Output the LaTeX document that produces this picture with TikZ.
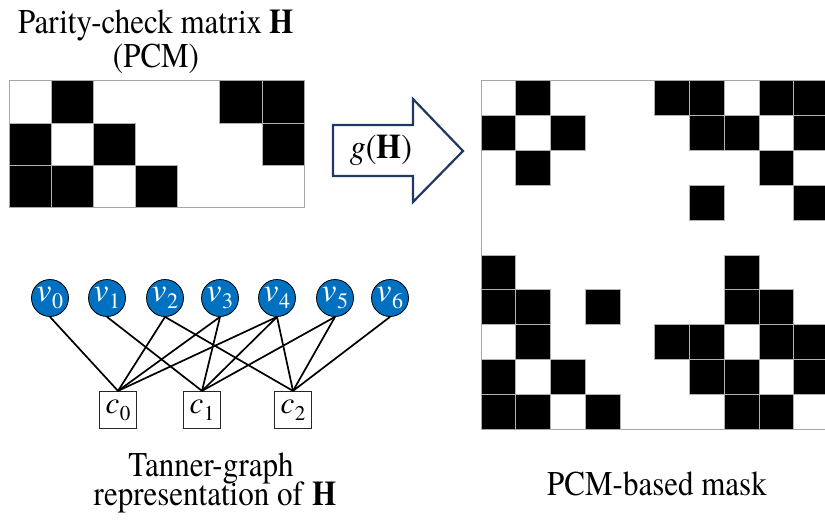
\documentclass[tikz,border=0pt]{standalone}
\usepackage{fontspec}
\setmainfont{TeX Gyre Termes}
\newcommand{\idx}[3]{\textit{#1}\kern0.5pt\raisebox{-0.22em}{\fontsize{#3}{#3}\selectfont #2}}
\begin{document}
\begin{tikzpicture}[x=1pt,y=-1pt,
  lbl/.style={font=\fontsize{31}{34}\selectfont, inner sep=0pt, anchor=base,
    yscale=1.12, transform shape},
  vnode/.style={circle, fill=vblue, draw=black, line width=0.8pt,
    minimum size=37pt, inner sep=0pt, text=white,
    font=\fontsize{33}{33}\selectfont},
  cnode/.style={rectangle, fill=white, draw=black!85, line width=1.2pt,
    minimum size=37pt, inner sep=0pt, font=\fontsize{31}{31}\selectfont},
  tedge/.style={line width=1.7pt, black},
  cell/.style={fill=black, draw=gray!60, line width=0.8pt},
  frame/.style={draw=gray!70, line width=0.9pt}]
\definecolor{vblue}{HTML}{0070C0}
\definecolor{navy}{HTML}{203864}
\useasboundingbox (0,0) rectangle (825,522);

% ---- parity-check matrix H (3 x 7) ----
\node[lbl] (title1) at (156,33) {Parity-check matrix \textbf{H}};
\node[lbl] (title2) at (156,67) {(PCM)};
\foreach \r/\bits in {0/{0,1,0,0,0,1,1},1/{1,0,1,0,0,0,1},2/{1,1,0,1,0,0,0}} {
  \foreach \b [count=\c from 0] in \bits {
    \ifnum\b=1
      \filldraw[cell] ({9.3+\c*42.1},{80.7+\r*42.2}) rectangle ++(42.1,42.2);
    \fi
  }
}
\draw[frame] (9.3,80.7) rectangle (304,207.3);

% ---- transformation arrow ----
\draw[navy, line width=2.2pt, fill=white, line join=miter]
  (333,125) -- (413,125) -- (413,99) -- (463,151) -- (413,202)
  -- (413,176) -- (333,176) -- cycle;
\node[font=\fontsize{32}{32}\selectfont, inner sep=0pt, yscale=1.08, transform shape]
  (gH) at (381,150) {\textit{g}(\textbf{H})};

% ---- PCM-based mask (10 x 10) ----
\foreach \r/\bits in {
  0/{0,1,0,0,0,1,1,0,1,1},
  1/{1,0,1,0,0,0,1,1,0,1},
  2/{0,1,0,0,0,0,0,0,1,0},
  3/{0,0,0,0,0,0,1,0,0,1},
  4/{0,0,0,0,0,0,0,0,0,0},
  5/{1,0,0,0,0,0,0,1,0,0},
  6/{1,1,0,1,0,0,0,1,1,0},
  7/{0,1,0,0,0,1,1,0,1,1},
  8/{1,0,1,0,0,0,1,1,0,1},
  9/{1,1,0,1,0,0,0,1,1,0}} {
  \foreach \b [count=\c from 0] in \bits {
    \ifnum\b=1
      \filldraw[cell] ({481+\c*34.75},{80.7+\r*34.86}) rectangle ++(34.75,34.86);
    \fi
  }
}
\draw[frame] (481,80.7) rectangle (828.5,429.3);
\node[lbl] (masklbl) at (657,495) {PCM-based mask};

% ---- Tanner graph ----
\foreach \i/\x in {0/50,1/107,2/165,3/220,4/277,5/335,6/390}
  \node[vnode] (v\i) at (\x,298) {\idx{v}{\i}{22}};
\foreach \j/\x in {0/118,1/202,2/293}
  \node[cnode] (c\j) at (\x,410) {\idx{c}{\j}{21}};
\foreach \i/\j in {0/0,1/1,2/0,2/2,3/0,3/1,4/0,4/1,4/2,5/1,5/2,6/2}
  \draw[tedge] (v\i.south) -- (c\j.north);
\node[lbl] (tg1) at (211,476) {Tanner-graph};
\node[lbl] (tg2) at (215,505) {representation of \textbf{H}};
\end{tikzpicture}
\end{document}
